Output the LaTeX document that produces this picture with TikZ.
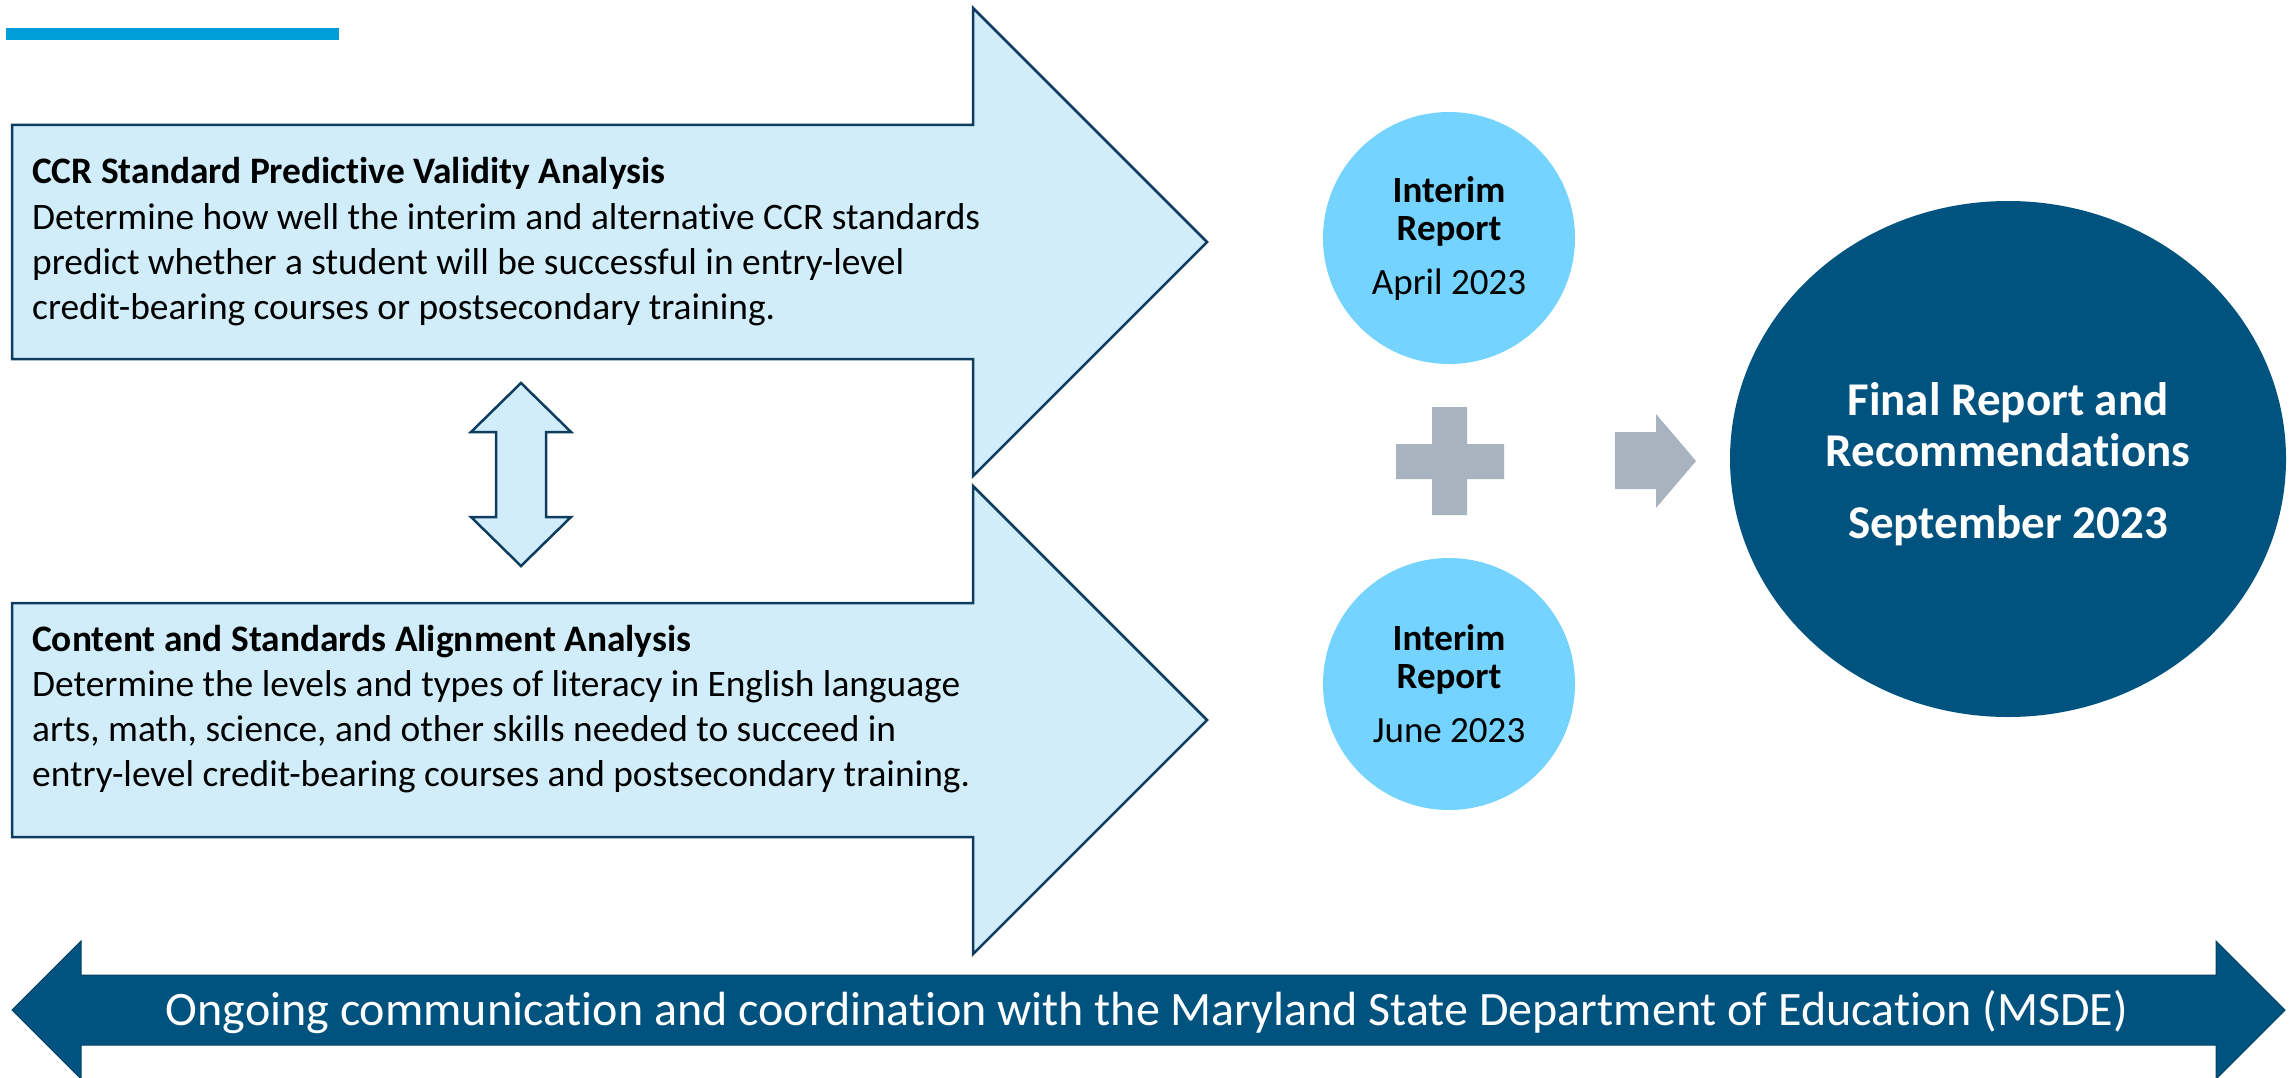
\documentclass[tikz,border=0pt]{standalone}
\usepackage{fontspec}
\setmainfont{Carlito}[Ligatures={NoCommon,NoContextual}]
\usetikzlibrary{shapes.geometric}
\definecolor{lightfill}{HTML}{D1EDFA}
\definecolor{navyline}{HTML}{0E3D5F}
\definecolor{interimfill}{HTML}{74D4FF}
\definecolor{navy}{HTML}{00527F}
\definecolor{grayshape}{HTML}{A9B3C0}
\definecolor{topline}{HTML}{009ED9}
\tikzset{
  lightarrow/.style={fill=lightfill, draw=navyline, line width=2.5pt, line join=miter},
  interim/.style={circle, fill=interimfill, draw=none, minimum size=252pt, inner sep=0pt, align=center,
     font=\fontsize{37}{38}\selectfont},
  bodytext/.style={anchor=base west, inner sep=0pt},
}
\begin{document}
\begin{tikzpicture}[x=1pt,y=-1pt]
\useasboundingbox (0,0) rectangle (2290,1078);
% top accent line
\fill[topline] (6,28) rectangle (339,40);
% top analysis arrow
\draw[lightarrow] (12,125) -- (973,125) -- (973,8) -- (1207,242) -- (973,476) -- (973,359) -- (12,359) -- cycle;
\node[bodytext] (ccr) at (32,184) {\parbox[t]{1000pt}{\raggedright\fontsize{37.4}{45}\selectfont
  \textbf{CCR Standard Predictive Validity Analysis}\\
  Determine how well the interim and alternative CCR standards\\
  predict whether a student will be successful in entry-level\\
  credit-bearing courses or postsecondary training.}};
% bottom analysis arrow
\draw[lightarrow] (12,603) -- (973,603) -- (973,486) -- (1207,720) -- (973,954) -- (973,837) -- (12,837) -- cycle;
\node[bodytext] (csa) at (32,651) {\parbox[t]{1000pt}{\raggedright\fontsize{37.4}{45}\selectfont
  \textbf{Content and Standards Alignment Analysis}\\
  Determine the levels and types of literacy in English language\\
  arts, math, science, and other skills needed to succeed in\\
  entry-level credit-bearing courses and postsecondary training.}};
% double vertical arrow
\draw[lightarrow] (521,383) -- (571,432) -- (546,432) -- (546,517) -- (571,517) -- (521,566)
  -- (471,517) -- (496,517) -- (496,432) -- (471,432) -- cycle;
% interim reports
\node[interim] (rep1) at (1449,238) {\textbf{Interim}\\\textbf{Report}\\[16pt]April 2023};
\node[interim] (rep2) at (1449,684) {\textbf{Interim}\\\textbf{Report}\\[16pt]June 2023};
% plus sign
\fill[grayshape] (1432,407) -- (1467,407) -- (1467,444) -- (1504,444) -- (1504,479) -- (1467,479)
  -- (1467,515) -- (1432,515) -- (1432,479) -- (1396,479) -- (1396,444) -- (1432,444) -- cycle;
% gray arrow
\fill[grayshape] (1615,432) -- (1656,432) -- (1656,414) -- (1696,461) -- (1656,508) -- (1656,489) -- (1615,489) -- cycle;
% final report
\node[ellipse, fill=navy, minimum width=556pt, minimum height=516pt, inner sep=0pt] (final) at (2008,459) {};
\node[align=center, inner sep=0pt, text=white, font=\bfseries\fontsize{47}{51}\selectfont] (finaltext)
  at ([yshift=-5pt]final.center) {Final Report and\\Recommendations\\[21pt]September 2023};
% bottom banner
\draw[fill=navy, draw=navy!80!black, line width=1pt] (12,1010) -- (81,941) -- (81,975) -- (2216,975) -- (2216,941)
  -- (2285,1010) -- (2216,1079) -- (2216,1045) -- (81,1045) -- (81,1079) -- cycle;
\node[text=white, inner sep=0pt, font=\fontsize{48}{52}\selectfont] (msde) at (1147,1012)
  {Ongoing communication and coordination with the Maryland State Department of Education (MSDE)};
\end{tikzpicture}
\end{document}
